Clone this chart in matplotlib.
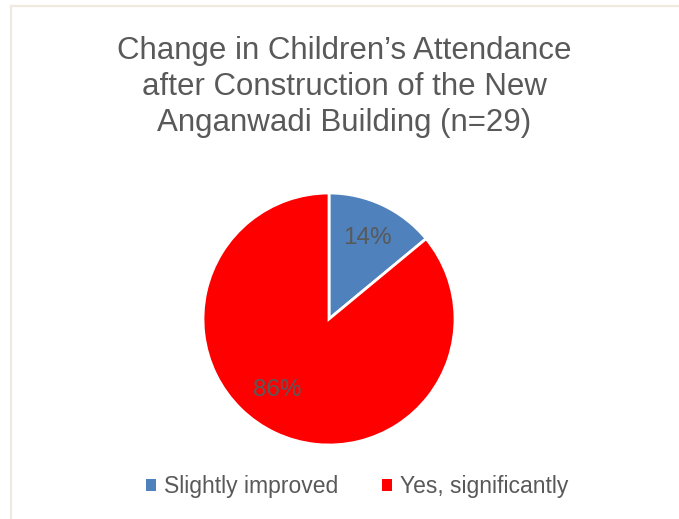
import matplotlib.pyplot as plt
from matplotlib.lines import Line2D
from matplotlib.patches import Patch

plt.rcParams['font.family'] = ['Liberation Sans', 'DejaVu Sans']

## データ
categories = ["Slightly improved", "Yes, significantly"]
shares = [14, 86]
colors = ["#4F81BD", "#FF0000"]
title = "Change in Children\u2019s Attendance\nafter Construction of the New\nAnganwadi Building (n=29)"

W, H = 679, 519
fig = plt.figure(figsize=(W / 100, H / 100), dpi=100)

## 枠線 (上と左のみ)
fig.add_artist(Line2D([10.5 / W, 10.5 / W], [0, 1 - 6 / H], color="#EEEAE0", lw=1.6))
fig.add_artist(Line2D([10.5 / W, 1], [1 - 6 / H, 1 - 6 / H], color="#EEEAE0", lw=1.6))

fig.text(344 / W, 1 - 87 / H, title, ha="center", va="center", fontsize=22.5,
         color="#595959", linespacing=1.26)

# 円グラフ
cx, cy, r = 329, 319, 126
ax = fig.add_axes([(cx - r) / W, 1 - (cy + r) / H, 2 * r / W, 2 * r / H])
wedges, _ = ax.pie(shares, colors=colors, startangle=90, counterclock=False,
                   wedgeprops=dict(edgecolor="white", linewidth=2))
ax.set_aspect("equal")
ax.set_xlim(-1, 1)
ax.set_ylim(-1, 1)
ax.axis("off")

label_pos = [(367, 238), (277, 390)]
for s, (x, y) in zip(shares, label_pos):
    ax.text((x - cx) / r, -(y - cy) / r, f"{s}%", ha="center", va="center",
            fontsize=17.5, color="#595959")

handles = [Patch(facecolor=c, edgecolor="none") for c in colors]
fig.legend(handles, categories, loc="center", bbox_to_anchor=(357 / W, 1 - 487 / H),
           ncol=2, frameon=False, fontsize=16.5, labelcolor="#595959",
           handlelength=0.45, handleheight=0.45, handletextpad=0.35, columnspacing=1.9)

fig.savefig("out.png", dpi=100)
